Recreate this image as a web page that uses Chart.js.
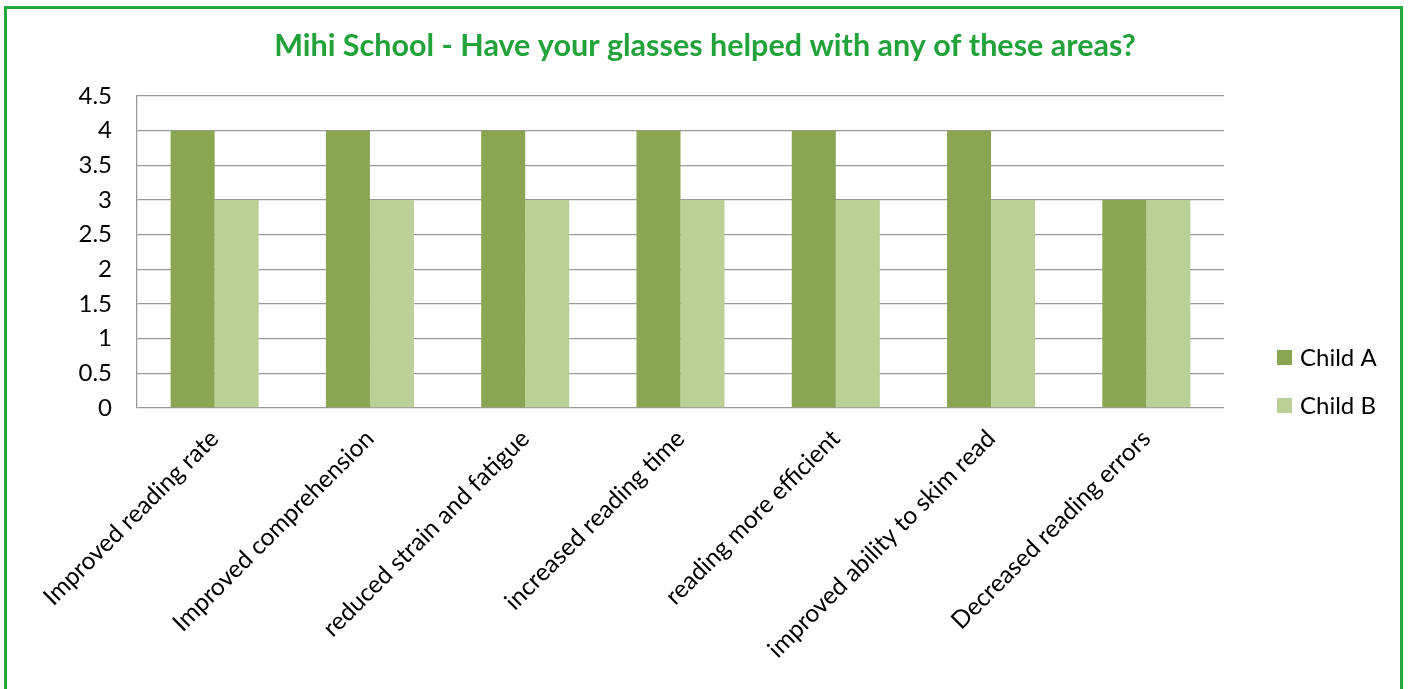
<!DOCTYPE html>
<html>
<head>
<meta charset="utf-8">
<script src="https://cdn.jsdelivr.net/npm/chart.js@4"></script>
<style>
  html, body { margin: 0; padding: 0; background: #fff; overflow: hidden; }
  #wrap { position: relative; width: 1410px; height: 689px; }
  #frame {
    position: absolute; left: 4px; top: 6px; width: 1399px; height: 700px;
    border: 3px solid #22A83C; box-sizing: border-box; pointer-events: none;
  }
  canvas { position: absolute; left: 0; top: 0; }
</style>
</head>
<body>
<div id="wrap">
  <canvas id="myChart" width="1410" height="689"></canvas>
  <div id="frame"></div>
</div>
<script>
const areas = [
  "Improved reading rate",
  "Improved comprehension",
  "reduced strain and fatigue",
  "increased reading time",
  "reading more efficient",
  "improved ability to skim read",
  "Decreased reading errors"
];
const childA = [4, 4, 4, 4, 4, 4, 3];
const childB = [3, 3, 3, 3, 3, 3, 3];
const yTicks = [0, 0.5, 1, 1.5, 2, 2.5, 3, 3.5, 4, 4.5];

const fontName = "Lato, 'Open Sans', sans-serif";

// legend drawn by hand in the empty strip right of the plot
const sideLegend = {
  id: "sideLegend",
  afterDraw(chart) {
    const c = chart.ctx;
    const sets = chart.data.datasets;
    c.save();
    c.font = "24px " + fontName;
    c.textBaseline = "middle";
    sets.forEach(function(ds, i){
      const y = 357 + i * 48;
      c.fillStyle = ds.backgroundColor;
      c.fillRect(1277, y - 7, 15, 15);
      c.fillStyle = "#000";
      c.fillText(ds.label, 1300, y + 1);
    });
    c.restore();
  }
};

const ctx = document.getElementById("myChart").getContext("2d");
const myChart = new Chart(ctx, {
  type: "bar",
  data: {
    labels: areas,
    datasets: [
      { label: "Child A", data: childA, backgroundColor: "#8AA652" },
      { label: "Child B", data: childB, backgroundColor: "#BAD097" }
    ]
  },
  options: {
    responsive: false,
    animation: false,
    layout: { padding: 0 },
    datasets: { bar: { categoryPercentage: 0.567, barPercentage: 1.0 } },
    plugins: {
      legend: { display: false },
      tooltip: { enabled: false },
      title: {
        display: true,
        text: "Mihi School - Have your glasses helped with any of these areas?",
        color: "#22A23A",
        font: { family: fontName, size: 30.5, weight: "bold", lineHeight: 1.2 },
        padding: { top: 28, bottom: 31.4 }
      }
    },
    scales: {
      x: {
        grid: { display: false },
        border: { display: false },
        ticks: {
          color: "#000",
          font: { family: fontName, size: 24.5 },
          minRotation: 45,
          maxRotation: 45,
          padding: 8
        },
        afterFit(scale) { scale.height = 281; }
      },
      y: {
        min: 0,
        max: 4.5,
        afterBuildTicks(scale) {
          scale.ticks = yTicks.map(function(v){ return { value: v }; });
        },
        grid: { color: "#9A9A9A", lineWidth: 1.3, drawTicks: false },
        border: { display: true, color: "#9A9A9A", width: 1.3 },
        ticks: {
          color: "#000",
          font: { family: fontName, size: 24 },
          padding: 25,
          callback: function(v){ return String(v); }
        },
        afterFit(scale) { scale.width = 137; }
      },
      // empty strip on the right that holds the legend
      side: {
        position: "right",
        grid: { display: false },
        border: { display: false },
        ticks: { callback: function(){ return ""; } },
        afterFit(scale) { scale.width = 186; }
      }
    }
  },
  plugins: [sideLegend]
});
</script>
</body>
</html>
